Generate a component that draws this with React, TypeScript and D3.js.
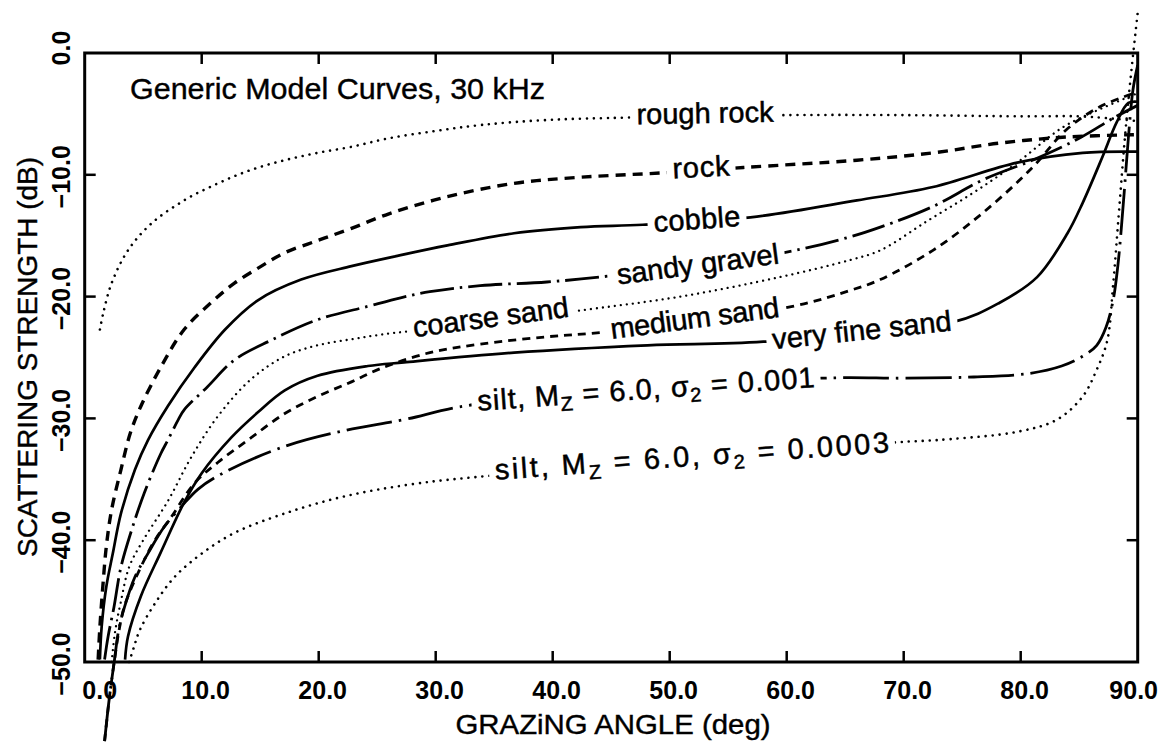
import React from 'react';
import * as d3 from 'd3';

type Pt = [number, number];

const xTicks = [0, 10, 20, 30, 40, 50, 60, 70, 80, 90];
const xTickLabels = ['0.0', '10.0', '20.0', '30.0', '40.0', '50.0', '60.0', '70.0', '80.0', '90.0'];
const yTicks = [0, -10, -20, -30, -40, -50];
const yTickLabels = ['0.0', '\u221210.0', '\u221220.0', '\u221230.0', '\u221240.0', '\u221250.0'];

const roughRock: Pt[] = [
  [1.3, -22.7], [1.6, -21.3], [2.3, -18.9], [3.7, -16.2], [5.7, -14.0], [8.5, -12.1], [11.4, -10.7],
  [14.2, -9.6], [17.1, -8.8], [19.9, -8.2], [22.8, -7.7], [26, -7.0], [30, -6.4], [34, -5.9],
  [39.5, -5.5], [46.6, -5.3], [60, -5.1], [70, -5.1], [80, -5.2], [85, -5.2], [88, -5.4], [90, -5.6],
];
const rock: Pt[] = [
  [1.15, -49.8], [1.3, -47.1], [1.55, -43.8], [1.85, -40.5], [2.3, -37.5], [3.1, -34.2], [3.9, -31.2],
  [4.8, -29.0], [6.5, -25.8], [8.5, -22.7], [10.8, -20.5], [12.8, -18.9], [15.1, -17.5], [17.1, -16.4],
  [19.9, -15.4], [22.8, -14.4], [26, -13.2], [31, -11.8], [36.7, -10.7], [42.4, -10.2], [49.2, -9.85],
  [56.3, -9.4], [66, -8.8], [72.5, -8.2], [78.2, -7.4], [83.9, -6.9], [90, -6.7],
];
const cobble: Pt[] = [
  [1.3, -49.8], [1.45, -47.1], [1.85, -43.8], [2.4, -41.1], [3.1, -37.8], [4.3, -34.2], [5.4, -31.8],
  [7.1, -29.0], [9.4, -25.8], [12.0, -22.7], [14.8, -20.3], [18.5, -18.6], [22.8, -17.5], [27, -16.6],
  [31, -15.8], [36.7, -14.8], [42.4, -14.3], [47.7, -14.1], [56.9, -13.5], [66, -12.1], [72.5, -11.0],
  [79.7, -9.0], [85.3, -8.2], [90, -8.1],
];
const sandyGravel: Pt[] = [
  [1.7, -49.8], [2.0, -47.9], [2.5, -45.5], [3.1, -42.2], [4.0, -39.2], [5.1, -36.1], [6.5, -32.9],
  [7.1, -31.8], [8.0, -30.1], [8.5, -29.3], [10.5, -27.4], [12.8, -25.2], [15.9, -23.6], [19.9, -21.9],
  [24.2, -20.8], [27, -20.1], [29.5, -19.6], [33.8, -19.1], [39.5, -18.8], [44.9, -18.3], [59.7, -16.4],
  [65.4, -15.1], [68, -14.3], [72.5, -12.6], [76.8, -10.4], [81, -8.8], [85, -7.0], [88, -5.3], [90, -4.3],
];
const coarseSand: Pt[] = [
  [2.3, -50], [2.6, -47.5], [3.1, -45], [3.8, -42.2], [5.0, -40.0], [7.1, -36.8], [9.1, -33.2],
  [11.4, -29.8], [14.2, -26.8], [17.1, -24.9], [19.9, -24.0], [22.8, -23.5], [25.5, -23.1], [30, -22.6],
  [35, -22.0], [41.8, -21.2], [50.9, -20.0], [59.4, -18.4], [65.4, -17.0], [68, -16.2], [72, -13.8],
  [75.9, -11.5], [79.7, -9.0], [83.6, -6.1], [86.8, -4.6], [90, -3.3],
];
const mediumSand: Pt[] = [
  [1.7, -56.5], [2.1, -53], [2.55, -49.8], [2.9, -47.6], [3.4, -45.4], [4.8, -42.2], [6.0, -40.0],
  [7.4, -38.1], [9.4, -35.3], [11.4, -33.6], [14.2, -31.6], [17.1, -29.6], [19.9, -28.2], [22.8, -27.0],
  [25.3, -25.9], [29.5, -24.6], [33.8, -23.9], [39.5, -23.3], [44.6, -22.9], [60.5, -20.8], [65.4, -19.5],
  [68, -18.6], [72.5, -16.2], [76.8, -13.1], [81, -9.4], [83.9, -6.3], [86.8, -4.4], [90, -3.2],
];
const veryFineSand: Pt[] = [
  [3.45, -49.8], [3.7, -47.9], [4.8, -44.6], [6.5, -41.0], [8.5, -36.9], [10, -34.5], [12.5, -31.6],
  [14.8, -29.5], [17.1, -27.7], [19.9, -26.5], [24.2, -25.7], [27.3, -25.4], [36.7, -24.6], [48.1, -24.0],
  [58, -23.7], [74.2, -22.1], [78.2, -20.5], [81.4, -18.4], [84, -14.8], [85.3, -12.3],
  [87.0, -8.5], [88.2, -5.7], [89.2, -4.1], [90, -4.0],
];
const siltCoarse: Pt[] = [
  [1.7, -56.5], [2.1, -53], [2.55, -49.8], [2.9, -47.4], [3.4, -45.5], [4.3, -43.0], [5.4, -41.1],
  [6.8, -38.9], [8.3, -37.2], [9.7, -35.8], [12.0, -34.4], [17.1, -32.3], [22.2, -31.0], [27.3, -30.1],
  [33, -28.9], [63, -26.7], [70, -26.7], [76, -26.6], [80.8, -26.3], [83.5, -25.7], [85.3, -24.9],
  [86.5, -24.0], [87.3, -22.5], [87.9, -20.3], [88.3, -17.5], [88.8, -12], [89.2, -7], [89.6, -3], [90, -1],
];
const siltFine: Pt[] = [
  [3.8, -50], [4.2, -48.8], [4.7, -47.4], [6.0, -45.2], [7.7, -43.0], [10.0, -41.1], [12.8, -39.4],
  [17.1, -37.8], [22.2, -36.4], [28, -35.4], [34.7, -34.7], [68.8, -32.0], [74, -31.7], [79.7, -31.1],
  [83.1, -30.1], [85.3, -28.2], [86.5, -26.0], [87.4, -23.6], [87.9, -19.0], [88.4, -13], [88.9, -7],
  [89.4, -2], [90, 3.3],
];

type Style = { width: number; dash?: string; cap?: 'round' | 'butt' };
const DOT: Style = { width: 2.6, dash: '0.01 7', cap: 'round' };

const series: { name: string; data: Pt[]; style: Style }[] = [
  { name: 'rough rock', data: roughRock, style: DOT },
  { name: 'rock', data: rock, style: { width: 3.4, dash: '10 7' } },
  { name: 'cobble', data: cobble, style: { width: 2.7 } },
  { name: 'sandy gravel', data: sandyGravel, style: { width: 2.8, dash: '34 6 2.5 6' } },
  { name: 'coarse sand', data: coarseSand, style: { width: 2.3, dash: '0.01 6', cap: 'round' } },
  { name: 'medium sand', data: mediumSand, style: { width: 2.8, dash: '8 6' } },
  { name: 'very fine sand', data: veryFineSand, style: { width: 2.7 } },
  { name: 'silt 0.001', data: siltCoarse, style: { width: 2.8, dash: '46 7 2.5 7' } },
  { name: 'silt 0.0003', data: siltFine, style: DOT },
];

// label layout: center, width, rotation
const labels: { cx: number; cy: number; w: number; rot: number }[] = [
  { cx: 705, cy: 115, w: 137, rot: -1 },
  { cx: 701, cy: 169, w: 57, rot: -3 },
  { cx: 697, cy: 221, w: 87, rot: -4 },
  { cx: 698, cy: 266, w: 163, rot: -7.5 },
  { cx: 491, cy: 319, w: 157, rot: -7.5 },
  { cx: 695, cy: 320, w: 170, rot: -7.5 },
  { cx: 862, cy: 332, w: 180, rot: -6 },
  { cx: 646, cy: 391, w: 338, rot: -4 },
  { cx: 692, cy: 458, w: 395, rot: -4 },
];

const W = 1161;
const H = 742;
const X0 = 84.7, X1 = 1137.7, Y0 = 662, Y1 = 53;

const FONT = '"Liberation Sans", Arial, Helvetica, sans-serif';

function LabelText({ i }: { i: number }) {
  const s = series[i];
  const l = labels[i];
  const common = {
    x: 0,
    y: 8,
    textAnchor: 'middle' as const,
    fontFamily: FONT,
    fontSize: 29,
    fill: '#000',
    stroke: '#000',
    strokeWidth: 0.5,
    textLength: l.w,
    lengthAdjust: 'spacing',
  };
  let content: React.ReactNode = s.name;
  if (i === 7 || i === 8) {
    const val = i === 7 ? '0.001' : '0.0003';
    content = (
      <>
        silt, M<tspan fontSize={20} dy={6}>Z</tspan>
        <tspan dy={-6}> = 6.0, σ</tspan>
        <tspan fontSize={20} dy={6}>2</tspan>
        <tspan dy={-6}>{` = ${val}`}</tspan>
      </>
    );
  }
  return (
    <g transform={`translate(${l.cx},${l.cy}) rotate(${l.rot})`}>
      <text {...common}>{content}</text>
    </g>
  );
}

export default function App() {
  const x = d3.scaleLinear().domain([0, 90]).range([X0, X1]);
  const y = d3.scaleLinear().domain([-50, 0]).range([Y0, Y1]);
  const line = d3
    .line<Pt>()
    .x((d) => x(d[0]))
    .y((d) => y(d[1]))
    .curve(d3.curveCatmullRom.alpha(0.5));

  const tickLen = 11;

  return (
    <svg
      width={W}
      height={H}
      viewBox={`0 0 ${W} ${H}`}
      style={{ position: 'absolute', left: 0, top: 0, background: '#fff' }}
    >
      <rect x={0} y={0} width={W} height={H} fill="#fff" />
      <defs>
        {series.map((s, i) => {
          const l = labels[i];
          return (
            <mask key={i} id={`m${i}`} maskUnits="userSpaceOnUse" x={0} y={0} width={W} height={H}>
              <rect x={0} y={0} width={W} height={H} fill="#fff" />
              <rect
                x={-l.w / 2 - 6}
                y={-14}
                width={l.w + 12}
                height={28}
                fill="#000"
                transform={`translate(${l.cx},${l.cy}) rotate(${l.rot})`}
              />
            </mask>
          );
        })}
      </defs>

      {/* curves */}
      {series.map((s, i) => (
        <path
          key={s.name}
          d={line(s.data) || ''}
          fill="none"
          stroke="#000"
          strokeWidth={s.style.width}
          strokeDasharray={s.style.dash}
          strokeLinecap={s.style.cap || 'butt'}
          strokeLinejoin="round"
          mask={`url(#m${i})`}
        />
      ))}

      {/* frame */}
      <rect x={X0} y={Y1} width={X1 - X0} height={Y0 - Y1} fill="none" stroke="#000" strokeWidth={3} />

      {/* ticks */}
      {xTicks.slice(1, -1).map((t) => (
        <g key={`xt${t}`} stroke="#000" strokeWidth={2.5}>
          <line x1={x(t)} x2={x(t)} y1={Y0} y2={Y0 - tickLen} />
          <line x1={x(t)} x2={x(t)} y1={Y1} y2={Y1 + tickLen} />
        </g>
      ))}
      {yTicks.slice(1, -1).map((t) => (
        <g key={`yt${t}`} stroke="#000" strokeWidth={2.5}>
          <line x1={X0} x2={X0 + tickLen} y1={y(t)} y2={y(t)} />
          <line x1={X1} x2={X1 - tickLen} y1={y(t)} y2={y(t)} />
        </g>
      ))}

      {/* x tick labels */}
      {xTicks.map((t, i) => (
        <text
          key={`xl${t}`}
          x={x(t) + (i === 0 ? 15 : i === xTicks.length - 1 ? -4 : 4)}
          y={699}
          textAnchor="middle"
          fontFamily={FONT}
          fontWeight="bold"
          fontSize={25}
          fill="#000"
        >
          {xTickLabels[i]}
        </text>
      ))}

      {/* y tick labels */}
      {yTicks.map((t, i) => (
        <text
          key={`yl${t}`}
          transform={`translate(70,${y(t) + (i === 0 ? -5 : 2)}) rotate(-90)`}
          textAnchor="middle"
          fontFamily={FONT}
          fontWeight="bold"
          fontSize={25}
          fill="#000"
        >
          {yTickLabels[i]}
        </text>
      ))}

      {/* axis titles */}
      <text
        x={613}
        y={734}
        textAnchor="middle"
        fontFamily={FONT}
        fontSize={28.5}
        fill="#000"
        stroke="#000"
        strokeWidth={0.4}
        textLength={315}
        lengthAdjust="spacingAndGlyphs"
      >
        GRAZiNG ANGLE  (deg)
      </text>
      <text
        transform="translate(37,357) rotate(-90)"
        textAnchor="middle"
        fontFamily={FONT}
        fontSize={28.5}
        fill="#000"
        stroke="#000"
        strokeWidth={0.4}
        textLength={400}
        lengthAdjust="spacingAndGlyphs"
      >
        SCATTERING STRENGTH (dB)
      </text>

      {/* chart title */}
      <text
        x={130}
        y={99}
        fontFamily={FONT}
        fontSize={30}
        fill="#000"
        stroke="#000"
        strokeWidth={0.4}
        textLength={415}
        lengthAdjust="spacingAndGlyphs"
      >
        Generic Model Curves, 30 kHz
      </text>

      {/* curve labels */}
      {series.map((s, i) => (
        <LabelText key={`lab${i}`} i={i} />
      ))}
    </svg>
  );
}
